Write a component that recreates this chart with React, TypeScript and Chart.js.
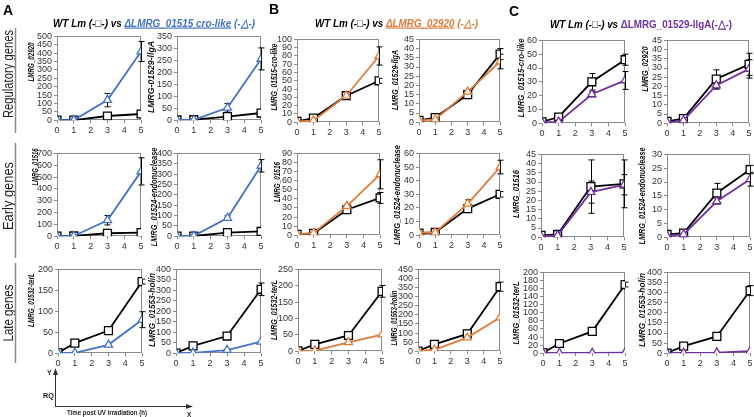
import React, { useEffect, useRef } from 'react';
import { Chart, registerables } from 'chart.js';
Chart.register(...registerables);

// ---------- shared ----------
const hours = [0, 1, 3, 5];

// ---------- Panel A : WT vs ΔLMRG_01515 cro-like ----------
const A_02920_WT = [1, 1, 25, 37];
const A_02920_WT_err = [0.5, 0.5, 4, 5];
const A_02920_MUT = [1, 1, 120, 410];
const A_02920_MUT_err = [0.5, 0.5, 40, 60];

const A_01529_WT = [1, 2, 15, 30];
const A_01529_WT_err = [0.5, 1, 3, 5];
const A_01529_MUT = [1, 1, 52, 256];
const A_01529_MUT_err = [0.5, 0.5, 18, 46];

const A_01516_WT = [1, 2, 25, 30];
const A_01516_WT_err = [0.5, 0.5, 5, 5];
const A_01516_MUT = [1, 2, 135, 548];
const A_01516_MUT_err = [0.5, 0.5, 40, 115];

const A_01524_WT = [1, 1, 17, 23];
const A_01524_WT_err = [0.5, 0.5, 3, 4];
const A_01524_MUT = [1, 2, 88, 340];
const A_01524_MUT_err = [0.5, 0.5, 10, 30];

const A_01532_WT = [1, 24, 54, 171];
const A_01532_WT_err = [0.5, 2, 6, 6];
const A_01532_MUT = [1, 1, 20, 80];
const A_01532_MUT_err = [0.5, 0.5, 3, 19];

const A_01553_WT = [1, 35, 82, 305];
const A_01553_WT_err = [1, 3, 5, 30];
const A_01553_MUT = [1, 2, 15, 55];
const A_01553_MUT_err = [0.5, 0.5, 3, 5];

// ---------- Panel B : WT vs ΔLMRG_02920 ----------
const B_01515_WT = [1, 5, 32, 50];
const B_01515_WT_err = [0.5, 1, 2, 3];
const B_01515_MUT = [1, 2, 32, 80];
const B_01515_MUT_err = [0.5, 0.5, 2, 11];

const B_01529_WT = [1, 2.5, 15, 37];
const B_01529_WT_err = [0.3, 0.5, 1.5, 3];
const B_01529_MUT = [1, 1.5, 16.5, 33];
const B_01529_MUT_err = [0.3, 0.5, 1, 4];

const B_01516_WT = [1, 2, 28, 41];
const B_01516_WT_err = [0.3, 0.5, 2, 6];
const B_01516_MUT = [1, 2.5, 32, 67];
const B_01516_MUT_err = [0.3, 0.5, 2, 16];

const B_01524_WT = [1.5, 2, 19.5, 30];
const B_01524_WT_err = [0.3, 0.5, 1.5, 2];
const B_01524_MUT = [2, 2, 23, 50];
const B_01524_MUT_err = [0.3, 0.3, 3, 5];

const B_01532_WT = [1, 21, 48, 183];
const B_01532_WT_err = [0.5, 2, 3, 18];
const B_01532_MUT = [1, 2, 27, 51];
const B_01532_MUT_err = [0.5, 0.5, 2, 3];

const B_01553_WT = [1, 38, 95, 355];
const B_01553_WT_err = [1, 3, 6, 25];
const B_01553_MUT = [1, 8, 75, 185];
const B_01553_MUT_err = [0.5, 2, 4, 8];

// ---------- Panel C : WT vs ΔLMRG_01529-llgA ----------
const C_01515_WT = [1, 4.5, 30, 46];
const C_01515_WT_err = [0.5, 1, 6, 4];
const C_01515_MUT = [0.5, 1, 21, 31];
const C_01515_MUT_err = [0.2, 0.3, 2, 6.5];

const C_02920_WT = [1, 2.5, 24, 32];
const C_02920_WT_err = [0.5, 0.5, 5, 6];
const C_02920_MUT = [0.5, 1.5, 20.5, 29.5];
const C_02920_MUT_err = [0.2, 0.3, 2, 5];

const C_01516_WT = [1, 1.5, 27.5, 29];
const C_01516_WT_err = [0.3, 0.5, 14.5, 13];
const C_01516_MUT = [0.5, 1, 24.5, 28.5];
const C_01516_MUT_err = [0.2, 0.3, 6, 5.5];

const C_01524_WT = [1, 1.5, 16, 24.5];
const C_01524_WT_err = [0.3, 0.3, 3.5, 1.5];
const C_01524_MUT = [0.5, 1, 13, 21];
const C_01524_MUT_err = [0.2, 0.2, 1, 2.5];

const C_01532_WT = [1, 24, 54, 170];
const C_01532_WT_err = [0.5, 2, 5, 6];
const C_01532_MUT = [0.5, 0.5, 0.5, 1.5];
const C_01532_MUT_err = [0, 0, 0, 0];

const C_01553_WT = [1, 35, 83, 310];
const C_01553_WT_err = [1, 2, 4, 25];
const C_01553_MUT = [0.5, 1, 3, 10];
const C_01553_MUT_err = [0, 0, 0, 0];

const BLUE = '#4472C4';
const ORANGE = '#E07B39';
const PURPLE = '#7030A0';

type Spec = {
  label: string;
  wt: number[]; wtErr: number[];
  mut: number[]; mutErr: number[];
  yMax: number; yStep: number;
  color: string;
  rect: [number, number, number, number];
  lab: [number, number, number];
};

const specs: Spec[] = [
  // row 1 regulatory
  { label: 'LMRG_02920', wt: A_02920_WT, wtErr: A_02920_WT_err, mut: A_02920_MUT, mutErr: A_02920_MUT_err, yMax: 500, yStep: 50, color: BLUE, rect: [57, 36, 141, 120], lab: [31, 62, 39] },
  { label: 'LMRG-01529-llgA', wt: A_01529_WT, wtErr: A_01529_WT_err, mut: A_01529_MUT, mutErr: A_01529_MUT_err, yMax: 350, yStep: 50, color: BLUE, rect: [177, 36, 261, 120], lab: [151, 77, 72] },
  { label: 'LMRG_01515-cro-like', wt: B_01515_WT, wtErr: B_01515_WT_err, mut: B_01515_MUT, mutErr: B_01515_MUT_err, yMax: 100, yStep: 10, color: ORANGE, rect: [297, 39, 379, 122], lab: [274, 77, 67] },
  { label: 'LMRG_01529-llgA', wt: B_01529_WT, wtErr: B_01529_WT_err, mut: B_01529_MUT, mutErr: B_01529_MUT_err, yMax: 45, yStep: 5, color: ORANGE, rect: [419, 39, 500, 122], lab: [395, 80, 60] },
  { label: 'LMRG_01515-cro-like', wt: C_01515_WT, wtErr: C_01515_WT_err, mut: C_01515_MUT, mutErr: C_01515_MUT_err, yMax: 60, yStep: 10, color: PURPLE, rect: [542, 40, 625, 123], lab: [521, 78, 79] },
  { label: 'LMRG_02920', wt: C_02920_WT, wtErr: C_02920_WT_err, mut: C_02920_MUT, mutErr: C_02920_MUT_err, yMax: 45, yStep: 5, color: PURPLE, rect: [667, 40, 749, 123], lab: [645, 69, 45] },
  // row 2 early
  { label: 'LMRG_01516', wt: A_01516_WT, wtErr: A_01516_WT_err, mut: A_01516_MUT, mutErr: A_01516_MUT_err, yMax: 700, yStep: 100, color: BLUE, rect: [57, 153, 141, 236], lab: [35, 167, 37] },
  { label: 'LMRG_01524-endonuclease', wt: A_01524_WT, wtErr: A_01524_WT_err, mut: A_01524_MUT, mutErr: A_01524_MUT_err, yMax: 400, yStep: 50, color: BLUE, rect: [177, 153, 261, 236], lab: [154, 197, 99] },
  { label: 'LMRG_01516', wt: B_01516_WT, wtErr: B_01516_WT_err, mut: B_01516_MUT, mutErr: B_01516_MUT_err, yMax: 90, yStep: 10, color: ORANGE, rect: [297, 153, 380, 235], lab: [277, 182, 40] },
  { label: 'LMRG_01524-endonuclease', wt: B_01524_WT, wtErr: B_01524_WT_err, mut: B_01524_MUT, mutErr: B_01524_MUT_err, yMax: 60, yStep: 10, color: ORANGE, rect: [419, 153, 500, 235], lab: [397, 195, 100] },
  { label: 'LMRG_01516', wt: C_01516_WT, wtErr: C_01516_WT_err, mut: C_01516_MUT, mutErr: C_01516_MUT_err, yMax: 45, yStep: 5, color: PURPLE, rect: [541, 154, 624, 237], lab: [516, 194, 48] },
  { label: 'LMRG_01524-endonuclease', wt: C_01524_WT, wtErr: C_01524_WT_err, mut: C_01524_MUT, mutErr: C_01524_MUT_err, yMax: 30, yStep: 5, color: PURPLE, rect: [667, 154, 750, 237], lab: [642, 196, 97] },
  // row 3 late
  { label: 'LMRG_01532-terL', wt: A_01532_WT, wtErr: A_01532_WT_err, mut: A_01532_MUT, mutErr: A_01532_MUT_err, yMax: 200, yStep: 50, color: BLUE, rect: [58, 269, 142, 353], lab: [31, 300, 54] },
  { label: 'LMRG_01553-holin', wt: A_01553_WT, wtErr: A_01553_WT_err, mut: A_01553_MUT, mutErr: A_01553_MUT_err, yMax: 400, yStep: 50, color: BLUE, rect: [176, 269, 261, 353], lab: [152, 310, 74] },
  { label: 'LMRG_01532-terL', wt: B_01532_WT, wtErr: B_01532_WT_err, mut: B_01532_MUT, mutErr: B_01532_MUT_err, yMax: 250, yStep: 50, color: ORANGE, rect: [298, 269, 382, 351], lab: [274, 310, 60] },
  { label: 'LMRG_01553-holin', wt: B_01553_WT, wtErr: B_01553_WT_err, mut: B_01553_MUT, mutErr: B_01553_MUT_err, yMax: 450, yStep: 50, color: ORANGE, rect: [418, 269, 500, 351], lab: [394, 318, 55] },
  { label: 'LMRG_01532-terL', wt: C_01532_WT, wtErr: C_01532_WT_err, mut: C_01532_MUT, mutErr: C_01532_MUT_err, yMax: 200, yStep: 20, color: PURPLE, rect: [543, 272, 625, 353], lab: [516, 313, 63] },
  { label: 'LMRG_01553-holin', wt: C_01553_WT, wtErr: C_01553_WT_err, mut: C_01553_MUT, mutErr: C_01553_MUT_err, yMax: 400, yStep: 50, color: PURPLE, rect: [667, 272, 750, 353], lab: [642, 310, 74] },
];

const FRAME = '#8a8a8a';
const TICKFONT = { family: 'Arial, "Liberation Sans", sans-serif', size: 9 };

const framePlugin = {
  id: 'frameErr',
  beforeDatasetsDraw(chart: any) {
    const { ctx, chartArea: ca } = chart;
    ctx.save();
    ctx.strokeStyle = FRAME;
    ctx.lineWidth = 1;
    ctx.strokeRect(Math.round(ca.left) + 0.5, Math.round(ca.top) + 0.5, Math.round(ca.right - ca.left) - 1, Math.round(ca.bottom - ca.top) - 1);
    const ys = chart.scales.y;
    ctx.strokeStyle = '#000';
    ctx.lineWidth = 1;
    chart.data.datasets.forEach((ds: any, i: number) => {
      const meta = chart.getDatasetMeta(i);
      meta.data.forEach((pt: any, j: number) => {
        const e = ds.errors[j];
        if (!e) return;
        const v = ds.data[j].y;
        const y1 = ys.getPixelForValue(v + e);
        const y2 = ys.getPixelForValue(Math.max(0, v - e));
        if (Math.abs(y2 - y1) < 3) return;
        const x = Math.round(pt.x) + 0.5;
        ctx.beginPath();
        ctx.moveTo(x, y1); ctx.lineTo(x, y2);
        ctx.moveTo(x - 3, y1); ctx.lineTo(x + 3, y1);
        ctx.moveTo(x - 3, y2); ctx.lineTo(x + 3, y2);
        ctx.stroke();
      });
    });
    ctx.restore();
  },
};

function makeConfig(s: Spec): any {
  return {
    type: 'line',
    data: {
      datasets: [
        {
          label: 'mutant',
          data: hours.map((x, i) => ({ x, y: s.mut[i] })),
          errors: s.mutErr,
          borderColor: s.color, borderWidth: 1.8,
          pointStyle: 'triangle', pointRadius: 4.7, pointBorderWidth: 1.3,
          pointBackgroundColor: '#fff', pointBorderColor: s.color,
          tension: 0,
        },
        {
          label: 'WT Lm',
          data: hours.map((x, i) => ({ x, y: s.wt[i] })),
          errors: s.wtErr,
          borderColor: '#000', borderWidth: 1.8,
          pointStyle: 'rect', pointRadius: 5.6, pointBorderWidth: 1.3,
          pointBackgroundColor: '#fff', pointBorderColor: '#000',
          tension: 0,
        },
      ],
    },
    options: {
      animation: false, responsive: false, maintainAspectRatio: false,
      layout: { padding: { top: 2, right: 2, left: 0, bottom: 0 } },
      plugins: { legend: { display: false }, tooltip: { enabled: false }, title: { display: false } },
      scales: {
        x: {
          type: 'linear', min: 0, max: 5,
          ticks: { stepSize: 1, font: TICKFONT, color: '#333', padding: 2, maxRotation: 0, autoSkip: false },
          grid: { drawOnChartArea: false, tickLength: 3, color: FRAME },
          border: { display: false },
        },
        y: {
          type: 'linear', min: 0, max: s.yMax,
          ticks: { stepSize: s.yStep, font: TICKFONT, color: '#333', padding: 2, autoSkip: false },
          grid: { drawOnChartArea: false, tickLength: 3, color: FRAME },
          border: { display: false },
        },
      },
    },
    plugins: [framePlugin],
  };
}

function SmallChart({ s }: { s: Spec }) {
  const ref = useRef<HTMLCanvasElement>(null);
  useEffect(() => {
    const canvas = ref.current!;
    const [l, t, r, b] = s.rect;
    const pw = r - l, ph = b - t;
    const make = (w: number, h: number) => {
      canvas.width = w; canvas.height = h;
      canvas.style.width = w + 'px'; canvas.style.height = h + 'px';
      return new Chart(canvas, makeConfig(s));
    };
    let chart = make(pw + 80, ph + 60);
    const ca = chart.chartArea;
    const W0 = pw + 80, H0 = ph + 60;
    const left = ca.left, top = ca.top, right = W0 - ca.right, bottom = H0 - ca.bottom;
    chart.destroy();
    const W = Math.round(left + pw + right), H = Math.round(top + ph + bottom);
    canvas.style.position = 'absolute';
    canvas.style.left = Math.round(l - left) + 'px';
    canvas.style.top = Math.round(t - top) + 'px';
    chart = make(W, H);
    return () => chart.destroy();
  }, []);
  return <canvas ref={ref} style={{ position: 'absolute' }} />;
}

const FONT = 'Arial, "Liberation Sans", sans-serif';

export default function App() {
  return (
    <div style={{ position: 'fixed', left: 0, top: 0, width: 754, height: 417, background: '#fff', overflow: 'hidden', fontFamily: FONT }}>
      {specs.map((s, i) => <SmallChart key={i} s={s} />)}
      <svg width={754} height={417} style={{ position: 'absolute', left: 0, top: 0, pointerEvents: 'none' }} fontFamily={FONT}>
        {/* panel letters */}
        <text x={3} y={15} fontSize={14} fontWeight="bold">A</text>
        <text x={269} y={14} fontSize={14} fontWeight="bold">B</text>
        <text x={509} y={16} fontSize={14} fontWeight="bold">C</text>
        {/* titles */}
        <text x={53} y={26.5} fontSize={11.5} fontWeight="bold" fontStyle="italic" textLength={202} lengthAdjust="spacingAndGlyphs">
          <tspan fill="#000">{'WT Lm (-□-) vs '}</tspan>
          <tspan fill={BLUE} textDecoration="underline">{'ΔLMRG_01515 cro-like'}</tspan>
          <tspan fill={BLUE}>{' (-△-)'}</tspan>
        </text>
        <text x={315} y={26.5} fontSize={11.5} fontWeight="bold" fontStyle="italic" textLength={163} lengthAdjust="spacingAndGlyphs">
          <tspan fill="#000">{'WT Lm (-□-) vs '}</tspan>
          <tspan fill={ORANGE} textDecoration="underline">{'ΔLMRG_02920'}</tspan>
          <tspan fill={ORANGE}>{' (-△-)'}</tspan>
        </text>
        <text x={550} y={27.5} fontSize={11.5} fontWeight="bold" textLength={182} lengthAdjust="spacingAndGlyphs">
          <tspan fill="#000" fontStyle="italic">{'WT Lm (-□-) vs '}</tspan>
          <tspan fill={PURPLE}>{'ΔLMRG_01529-llgA(-△-)'}</tspan>
        </text>
        {/* row labels */}
        {[
          { t: 'Regulatory genes', cy: 74, len: 88, y0: 28, y1: 133 },
          { t: 'Early genes', cy: 196, len: 68, y0: 143, y1: 258 },
          { t: 'Late genes', cy: 313, len: 57, y0: 263, y1: 363 },
        ].map((r, i) => (
          <g key={i}>
            <text transform={`translate(12.5,${r.cy}) rotate(-90)`} textAnchor="middle" fontSize={14} fill="#222" textLength={r.len} lengthAdjust="spacingAndGlyphs">{r.t}</text>
            <line x1={15.5} x2={15.5} y1={r.y0} y2={r.y1} stroke="#8c8c8c" strokeWidth={1.5} />
          </g>
        ))}
        {/* y axis titles */}
        {specs.map((s, i) => (
          <text key={i} transform={`translate(${s.lab[0] + 3},${s.lab[1]}) rotate(-90)`} textAnchor="middle" fontSize={9} fontWeight="bold" fontStyle="italic" fill="#111" textLength={s.lab[2]} lengthAdjust="spacingAndGlyphs">{s.label}</text>
        ))}
        {/* axis legend */}
        <line x1={55.5} x2={55.5} y1={373} y2={407} stroke="#333" strokeWidth={1} />
        <polygon points="55.5,368 53,375 58,375" fill="#333" />
        <line x1={55.5} x2={188} y1={406.5} y2={406.5} stroke="#333" strokeWidth={1} />
        <polygon points="193,406.5 186,404 186,409" fill="#333" />
        <text x={47} y={375} fontSize={7} fontWeight="bold" fill="#222">Y</text>
        <text x={43} y={398} fontSize={7.5} fontWeight="bold" fill="#222" textLength={11} lengthAdjust="spacingAndGlyphs">RQ</text>
        <text x={67} y={415} fontSize={7.5} fontWeight="bold" fill="#222" textLength={80} lengthAdjust="spacingAndGlyphs">Time post UV irradiation (h)</text>
        <text x={187} y={416.5} fontSize={6.5} fontWeight="bold" fill="#222">X</text>
      </svg>
    </div>
  );
}
